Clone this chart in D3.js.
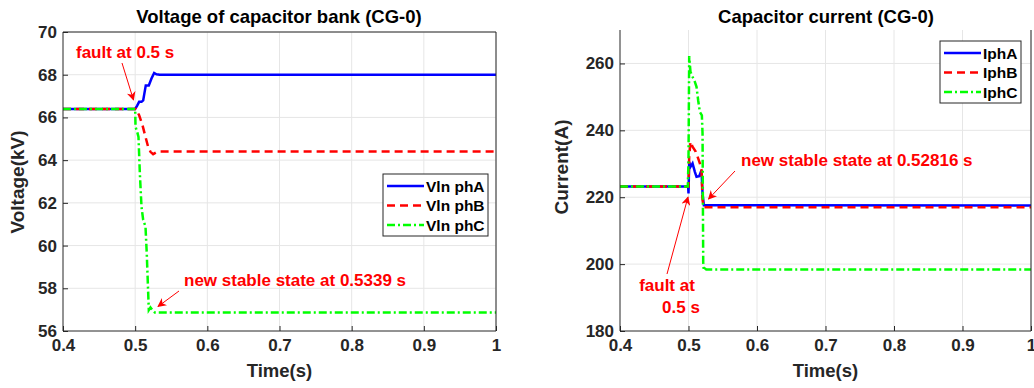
<!DOCTYPE html>
<meta charset="utf-8">
<style>
    body { margin: 0; background: #fff; }
    svg text { font-family: "Liberation Sans", Arial, sans-serif; font-weight: bold; }
    .grid line { stroke: #e6e6e6; stroke-width: 1; }
    .axis path, .axis line { stroke: #262626; }
    .axis text { fill: #262626; font-size: 17px; }
</style>
<body>
<script src="https://cdn.jsdelivr.net/npm/d3@7"></script>
<script>
    var width = 1034
    var height = 388

    // time axis ticks (shared)
    var timeTicks = [0.4, 0.5, 0.6, 0.7, 0.8, 0.9, 1]
    var voltTicks = [56, 58, 60, 62, 64, 66, 68, 70]
    var currTicks = [180, 200, 220, 240, 260]

    // voltage of capacitor bank, [time s, kV]
    var vlnPhA = [[0.4, 66.4], [0.5, 66.4], [0.5028, 66.55], [0.5055, 66.73], [0.5088, 66.73], [0.5111, 66.8],
        [0.5147, 67.5], [0.5189, 67.5], [0.5226, 67.82], [0.5263, 68.08], [0.5295, 68.02], [0.5341, 68.0], [1, 68.0]]
    var vlnPhB = [[0.4, 66.4], [0.501, 66.4], [0.5055, 66.1], [0.5101, 65.64], [0.5143, 65.09], [0.518, 64.62],
        [0.5212, 64.39], [0.5249, 64.28], [0.5295, 64.37], [0.534, 64.4], [1, 64.4]]
    var vlnPhC = [[0.4, 66.4], [0.5, 66.4], [0.5005, 65.56], [0.5028, 65.32], [0.5046, 65.09], [0.5065, 63.37],
        [0.5088, 61.8], [0.5111, 61.2], [0.5143, 60.9], [0.5161, 59.6], [0.5189, 56.98], [0.5212, 57.1],
        [0.524, 56.98], [0.5272, 56.87], [1, 56.87]]

    // capacitor current, [time s, A]
    var iphA = [[0.4, 223.2], [0.4995, 223.2], [0.5, 221.1], [0.501, 230.6], [0.5029, 229.1], [0.5059, 230.1],
        [0.5093, 227.6], [0.5117, 226.1], [0.5156, 226.3], [0.519, 228.1], [0.5205, 221.1], [0.5224, 217.6], [1, 217.5]]
    var iphB = [[0.4, 223.2], [0.5, 223.2], [0.501, 232.1], [0.5029, 236.6], [0.5059, 235.1], [0.5107, 233.6],
        [0.5166, 230.1], [0.519, 228.1], [0.5205, 219.1], [0.5224, 217.0], [1, 217.0]]
    var iphC = [[0.4, 223.2], [0.499, 223.2], [0.5, 231.1], [0.501, 262.2], [0.5029, 257.5], [0.5059, 256],
        [0.5093, 254.5], [0.5117, 253], [0.5141, 249], [0.5166, 245.5], [0.5195, 244.5], [0.5205, 239],
        [0.521, 219], [0.5215, 200.2], [0.5224, 198.2], [0.5239, 198.7], [0.526, 198.4], [1, 198.4]]

    var voltNames = ['Vln phA', 'Vln phB', 'Vln phC']
    var currNames = ['IphA', 'IphB', 'IphC']

    var colors = ['#0000ff', '#ff0000', '#00ff00']
    var dashes = [null, '8,5', '8,3,2,3']

    var svg = d3.select('body').append('svg')
        .attr('width', width)
        .attr('height', height)

    function panel(cfg) {
        var x = d3.scaleLinear().domain([0.4, 1]).range([cfg.left, cfg.right])
        var y = d3.scaleLinear().domain(cfg.yDomain).range([cfg.bottom, cfg.top])
        var g = svg.append('g')

        var grid = g.append('g').attr('class', 'grid')
        grid.selectAll('.gx').data(timeTicks.slice(1)).enter().append('line')
            .attr('x1', function (d) { return x(d) }).attr('x2', function (d) { return x(d) })
            .attr('y1', cfg.top).attr('y2', cfg.bottom)
        grid.selectAll('.gy').data(cfg.yTicks.slice(1)).enter().append('line')
            .attr('x1', cfg.left).attr('x2', cfg.right)
            .attr('y1', function (d) { return y(d) }).attr('y2', function (d) { return y(d) })

        var clipId = 'clip' + cfg.id
        g.append('clipPath').attr('id', clipId).append('rect')
            .attr('x', cfg.left).attr('y', cfg.top)
            .attr('width', cfg.right - cfg.left).attr('height', cfg.bottom - cfg.top)

        var line = d3.line()
            .x(function (d) { return x(d[0]) })
            .y(function (d) { return y(d[1]) })

        g.append('g').attr('clip-path', 'url(#' + clipId + ')')
            .selectAll('path').data(cfg.series).enter().append('path')
            .attr('d', line)
            .attr('fill', 'none')
            .attr('stroke', function (d, i) { return colors[i] })
            .attr('stroke-width', 2.5)
            .attr('stroke-dasharray', function (d, i) { return dashes[i] })

        var xAxis = g.append('g').attr('class', 'axis')
            .attr('transform', 'translate(0,' + cfg.bottom + ')')
            .call(d3.axisBottom(x).tickValues(timeTicks).tickSize(-5).tickPadding(8)
                .tickFormat(function (d) { return d === 1 ? '1' : d3.format('.1f')(d) }))
        xAxis.select('.domain').attr('d', 'M' + cfg.left + ',0H' + cfg.right)
        xAxis.selectAll('text').attr('dy', '0.71em')

        var yAxis = g.append('g').attr('class', 'axis')
            .attr('transform', 'translate(' + cfg.left + ',0)')
            .call(d3.axisLeft(y).tickValues(cfg.yTicks).tickSize(-5).tickPadding(6))
        yAxis.select('.domain').attr('d', 'M0,' + cfg.top + 'V' + cfg.bottom)

        g.append('line').attr('x1', cfg.right).attr('x2', cfg.right)
            .attr('y1', cfg.top).attr('y2', cfg.bottom)
            .attr('stroke', '#262626')
        if (cfg.boxTop) {
            g.append('line').attr('x1', cfg.left).attr('x2', cfg.right)
                .attr('y1', cfg.top).attr('y2', cfg.top)
                .attr('stroke', '#262626')
        }

        g.append('text').attr('x', cfg.titleX).attr('y', 23)
            .attr('text-anchor', 'middle').attr('font-size', 18.5).attr('fill', '#000')
            .text(cfg.title)
        g.append('text').attr('x', (cfg.left + cfg.right) / 2).attr('y', 377)
            .attr('text-anchor', 'middle').attr('font-size', 18.5).attr('fill', '#262626')
            .text('Time(s)')
        g.append('text')
            .attr('transform', 'translate(' + cfg.yLabelX + ',' + cfg.yLabelY + ') rotate(-90)')
            .attr('text-anchor', 'middle').attr('font-size', 19).attr('fill', '#262626')
            .text(cfg.yLabel)

        // legend
        var lg = g.append('g').attr('transform', 'translate(' + cfg.legend[0] + ',' + cfg.legend[1] + ')')
        lg.append('rect').attr('x', 0).attr('y', 0)
            .attr('width', cfg.legend[2]).attr('height', 62)
            .attr('fill', '#fff').attr('stroke', '#262626').attr('stroke-width', 1)
        cfg.names.forEach(function (name, i) {
            var yy = 12 + i * 19.5
            lg.append('line').attr('x1', 4).attr('x2', 41).attr('y1', yy).attr('y2', yy)
                .attr('stroke', colors[i]).attr('stroke-width', 2.5)
                .attr('stroke-dasharray', dashes[i])
            lg.append('text').attr('x', 43).attr('y', yy + 5.5)
                .attr('font-size', 15.5).attr('fill', '#000').text(name)
        })

        return { x: x, y: y, g: g }
    }

    svg.append('defs').append('marker')
        .attr('id', 'arrow').attr('viewBox', '0 0 10 10')
        .attr('refX', 9).attr('refY', 5)
        .attr('markerWidth', 9).attr('markerHeight', 9)
        .attr('markerUnits', 'userSpaceOnUse')
        .attr('orient', 'auto')
        .append('path').attr('d', 'M0,0L10,5L0,10L3,5Z').attr('fill', '#ff0000')

    function note(g, lines, tx, ty, anchor, from, to) {
        lines.forEach(function (t, i) {
            g.append('text').attr('x', tx[i]).attr('y', ty + i * 21.5)
                .attr('text-anchor', anchor).attr('font-size', 17).attr('fill', '#ff0000').text(t)
        })
        g.append('line').attr('x1', from[0]).attr('y1', from[1])
            .attr('x2', to[0]).attr('y2', to[1])
            .attr('stroke', '#ff0000').attr('stroke-width', 1)
            .attr('marker-end', 'url(#arrow)')
    }

    var left = panel({
        id: 'v', left: 63, right: 496, top: 32, bottom: 331,
        yDomain: [56, 70], yTicks: voltTicks,
        series: [vlnPhA, vlnPhB, vlnPhC], names: voltNames,
        title: 'Voltage of capacitor bank (CG-0)', titleX: 279, boxTop: true,
        yLabel: 'Voltage(kV)', yLabelX: 24, yLabelY: 182,
        legend: [383, 174, 105]
    })
    note(left.g, ['fault at 0.5 s'], [76], 58, 'start', [122, 63], [133.5, 100])
    note(left.g, ['new stable state at 0.5339 s'], [184], 286, 'start', [179, 291], [158, 306.5])

    var right = panel({
        id: 'i', left: 620, right: 1031, top: 30, bottom: 331,
        yDomain: [180, 270], yTicks: currTicks,
        series: [iphA, iphB, iphC], names: currNames,
        title: 'Capacitor current (CG-0)', titleX: 826, boxTop: false,
        yLabel: 'Current(A)', yLabelX: 568, yLabelY: 167,
        legend: [940, 41, 81]
    })
    note(right.g, ['new stable state at 0.52816 s'], [741], 166, 'start', [735, 171], [708.5, 199])
    note(right.g, ['fault at', '0.5 s'], [667, 681], 291, 'middle', [667, 274], [688, 197])
</script>
</body>
